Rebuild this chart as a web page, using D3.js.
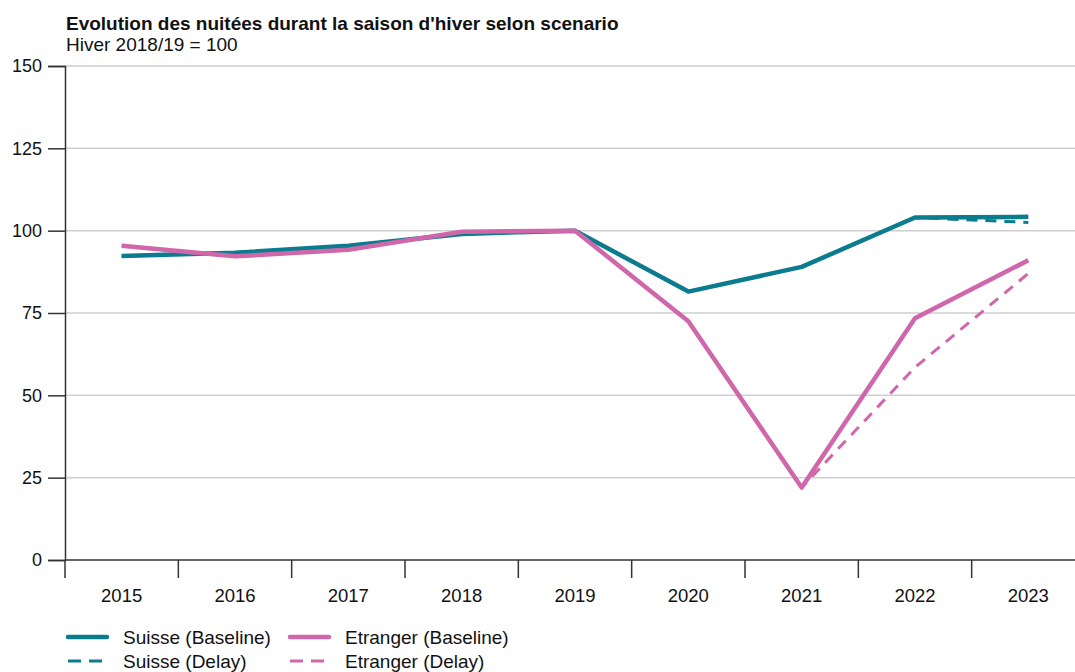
<!DOCTYPE html>
<html>
<head>
<meta charset="utf-8">
<script src="https://cdn.jsdelivr.net/npm/d3@7"></script>
<style>
  html, body { margin: 0; padding: 0; background: #fff; }
  svg { display: block; font-family: "Liberation Sans", Arial, sans-serif; }
</style>
</head>
<body>
<svg id="chart" width="1075" height="672"></svg>
<script>
const years = ["2015","2016","2017","2018","2019","2020","2021","2022","2023"];
const yTicks = [0, 25, 50, 75, 100, 125, 150];
const suisseBaseline = [92.3, 93.3, 95.4, 99.0, 100, 81.5, 89.0, 104.0, 104.2];
const suisseDelay    = [92.3, 93.3, 95.4, 99.0, 100, 81.5, 89.0, 104.0, 102.5];
const etrangerBaseline = [95.4, 92.2, 94.2, 99.7, 100, 72.5, 22.0, 73.4, 91.0];
const etrangerDelay    = [95.4, 92.2, 94.2, 99.7, 100, 72.5, 22.0, 58.5, 87.0];
const seriesNames = ["Suisse (Baseline)", "Suisse (Delay)", "Etranger (Baseline)", "Etranger (Delay)"];
const title = "Evolution des nuitées durant la saison d'hiver selon scenario";
const subtitle = "Hiver 2018/19 = 100";

(function () {
const TEAL = "#0b7b8e", PINK = "#cf67aa";
const svg = d3.select("#chart");
const mLeft = 65, mRight = 1085, mTop = 66, mBottom = 560;

const x = d3.scaleBand().domain(years).range([mLeft, mRight]).padding(0);
const y = d3.scaleLinear().domain([0, 150]).range([mBottom, mTop]);
const cx = d => x(d) + x.bandwidth() / 2;

// gridlines
svg.append("g").selectAll("line").data(yTicks.filter(t => t > 0)).join("line")
  .attr("x1", mLeft).attr("x2", 1075)
  .attr("y1", d => y(d)).attr("y2", d => y(d))
  .attr("stroke", "#cfcfcf").attr("stroke-width", 1.5);

// y axis
const yAxis = svg.append("g").attr("transform", `translate(${mLeft},0)`)
  .call(d3.axisLeft(y).tickValues(yTicks).tickSize(17).tickPadding(6));
yAxis.select(".domain").attr("stroke", "#333").attr("stroke-width", 1.5);
yAxis.selectAll(".tick line").attr("stroke", "#333").attr("stroke-width", 1.5);
yAxis.selectAll("text").attr("font-size", 18).attr("fill", "#111")
  .attr("font-family", "Liberation Sans, Arial, sans-serif");

// x axis (ticks at band boundaries)
const gx = svg.append("g");
gx.append("line").attr("x1", mLeft).attr("x2", 1075).attr("y1", mBottom).attr("y2", mBottom)
  .attr("stroke", "#333").attr("stroke-width", 1.5);
gx.selectAll("line.tk").data(years).join("line").attr("class", "tk")
  .attr("x1", d => x(d)).attr("x2", d => x(d))
  .attr("y1", mBottom).attr("y2", mBottom + 18)
  .attr("stroke", "#333").attr("stroke-width", 1.5);
gx.selectAll("text").data(years).join("text")
  .attr("x", d => cx(d)).attr("y", mBottom + 42)
  .attr("text-anchor", "middle").attr("font-size", 18.5).attr("fill", "#111")
  .text(d => d);

// lines
const line = d3.line().x((d, i) => cx(years[i])).y(d => y(d));
const series = [
  { vals: suisseDelay, color: TEAL, w: 3, dash: "11,8" },
  { vals: suisseBaseline, color: TEAL, w: 4.5, dash: null },
  { vals: etrangerDelay, color: PINK, w: 3, dash: "11,8" },
  { vals: etrangerBaseline, color: PINK, w: 4.5, dash: null }
];
series.forEach(s => {
  svg.append("path").datum(s.vals).attr("d", line)
    .attr("fill", "none").attr("stroke", s.color).attr("stroke-width", s.w)
    .attr("stroke-linejoin", "round")
    .attr("stroke-dasharray", s.dash);
});

// title
svg.append("text").attr("x", 66).attr("y", 30).attr("font-size", 19).attr("font-weight", "bold")
  .attr("fill", "#111").text(title);
svg.append("text").attr("x", 66).attr("y", 51).attr("font-size", 19)
  .attr("fill", "#111").text(subtitle);

// legend
const legend = [
  { name: seriesNames[0], color: TEAL, w: 4.5, dash: null, x: 68, y: 637 },
  { name: seriesNames[1], color: TEAL, w: 3, dash: "13,8", x: 68, y: 661 },
  { name: seriesNames[2], color: PINK, w: 4.5, dash: null, x: 290, y: 637 },
  { name: seriesNames[3], color: PINK, w: 3, dash: "13,8", x: 290, y: 661 }
];
const lg = svg.append("g").selectAll("g").data(legend).join("g");
lg.append("line").attr("x1", d => d.x).attr("x2", d => d.x + 39)
  .attr("y1", d => d.y).attr("y2", d => d.y)
  .attr("stroke", d => d.color).attr("stroke-width", d => d.w)
  .attr("stroke-linecap", d => d.dash ? "butt" : "round")
  .attr("stroke-dasharray", d => d.dash);
lg.append("text").attr("x", d => d.x + 55).attr("y", d => d.y + 6.5)
  .attr("font-size", 19).attr("fill", "#111").text(d => d.name);
})();
</script>
</body>
</html>
